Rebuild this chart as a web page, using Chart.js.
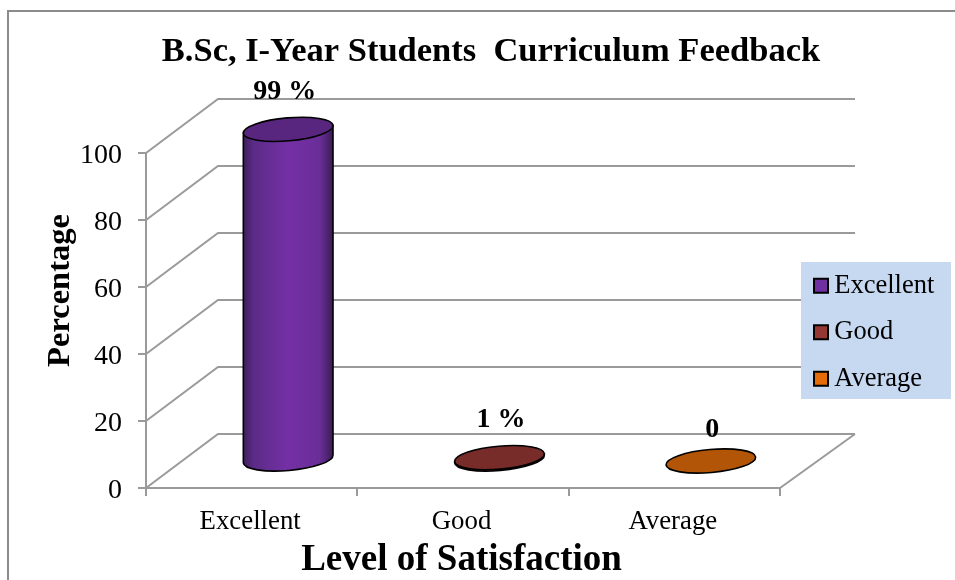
<!DOCTYPE html>
<html><head><meta charset="utf-8">
<style>html,body{margin:0;padding:0;background:#fff}canvas{display:block}</style>
<script src="https://cdn.jsdelivr.net/npm/chart.js@4"></script>
</head><body>
<canvas id="c" width="955" height="580"></canvas>
<script>
const categories = ['Excellent', 'Good', 'Average'];
const excellentValues = [99, null, null];
const goodValues = [null, 1, null];
const averageValues = [null, null, 0];
const dataLabels = ['99 %', '1 %', '0'];
const yTicks = [0, 20, 40, 60, 80, 100];
const titleText = 'B.Sc, I-Year Students  Curriculum Feedback';
const xTitleText = 'Level of Satisfaction';
const yTitleText = 'Percentage';

const FONT = "'Liberation Serif'";
const GRID = '#9a9a9a';
const DEPTH_X = 72, DEPTH_Y = 54;
const TILT = -5 * Math.PI / 180;
const LABEL_DX = [33, 38, 38];

function shiftTitle(chart, scale, dx, dy) {
  if (scale._shifted) return;
  const orig = scale.drawTitle.bind(scale);
  scale.drawTitle = function (a) {
    chart.ctx.save(); chart.ctx.translate(dx, dy); orig(a); chart.ctx.restore();
  };
  scale._shifted = true;
}

const threeD = {
  id: 'threeD',
  afterLayout(chart) {
    const t = chart.titleBlock; t.left = 27; t.right = 955;
    const l = chart.legend;
    l.left = 801; l.right = 955; l.top = 252.5; l.bottom = 480;
    shiftTitle(chart, chart.scales.y, 0, -30);
    shiftTitle(chart, chart.scales.x, -1.5, 3);
  },
  beforeDraw(chart) {
    const { ctx, chartArea: a, scales: { y } } = chart;
    ctx.save();
    // outer frame
    ctx.strokeStyle = '#8c8c8c'; ctx.lineWidth = 2;
    ctx.beginPath(); ctx.moveTo(8, 580); ctx.lineTo(8, 11); ctx.lineTo(955, 11); ctx.stroke();
    // walls
    ctx.strokeStyle = GRID; ctx.lineWidth = 2;
    y.ticks.forEach(t => {
      const py = y.getPixelForValue(t.value);
      ctx.beginPath();
      ctx.moveTo(a.left, py);
      ctx.lineTo(a.left + DEPTH_X, py - DEPTH_Y);
      ctx.lineTo(a.right + 75, py - DEPTH_Y);
      ctx.stroke();
    });
    const py0 = y.getPixelForValue(0);
    ctx.beginPath();
    ctx.moveTo(a.right, py0);
    ctx.lineTo(a.right + 75, py0 - DEPTH_Y);
    ctx.stroke();
    // legend panel
    ctx.fillStyle = '#c6d9f1';
    ctx.fillRect(801, 262, 150, 137);
    ctx.restore();
  },
  beforeDatasetDraw(chart, args) {
    const { ctx } = chart;
    const ds = chart.data.datasets[args.index];
    const el = args.meta.data.find((e, i) => ds.data[i] !== null);
    const r = el.width / 2;
    const cx = el.x + 36.5, topY = el.y - 27, baseY = el.base - 28, ry = 11.5;
    ctx.save();
    ctx.strokeStyle = '#000'; ctx.lineWidth = 1.6;
    if (baseY - topY > 0.5) {
      const g = ctx.createLinearGradient(cx - r, 0, cx + r, 0);
      ds.sideColors.forEach((c, i) => g.addColorStop(ds.sideStops[i], c));
      const dx = r * Math.cos(TILT), dy = r * Math.sin(TILT);
      ctx.fillStyle = g;
      ctx.beginPath();
      ctx.moveTo(cx - dx, topY - dy);
      ctx.lineTo(cx - dx, baseY - dy);
      ctx.ellipse(cx, baseY, r, ry, TILT, Math.PI, 0, true);
      ctx.lineTo(cx + dx, topY + dy);
      ctx.closePath();
      ctx.fill(); ctx.stroke();
    }
    ctx.fillStyle = ds.topColor;
    ctx.beginPath();
    ctx.ellipse(cx, topY, r, ry, TILT, 0, Math.PI * 2);
    ctx.fill(); ctx.stroke();
    ctx.restore();
    return false;
  },
  afterDatasetsDraw(chart) {
    const { ctx } = chart;
    ctx.save();
    ctx.fillStyle = '#000';
    ctx.font = 'bold 28px ' + FONT;
    ctx.textAlign = 'center'; ctx.textBaseline = 'middle';
    chart.data.datasets.forEach((ds, k) => {
      const idx = ds.data.findIndex(v => v !== null);
      const el = chart.getDatasetMeta(k).data[idx];
      const extra = ds.data[idx] === 0 ? 6 : 0;
      ctx.fillText(dataLabels[k], el.x + LABEL_DX[k], el.y - 64.5 + extra);
    });
    ctx.restore();
  }
};

new Chart(document.getElementById('c'), {
  type: 'bar',
  data: {
    labels: categories,
    datasets: [
      { label: 'Excellent', data: excellentValues, backgroundColor: '#7030a0', borderColor: '#000', borderWidth: 2,
        topColor: '#59267f', sideColors: ['#3f1f5c', '#5c2b88', '#7430a5', '#6a2e98', '#3a1c55'], sideStops: [0, 0.12, 0.5, 0.85, 1] },
      { label: 'Good', data: goodValues, backgroundColor: '#953735', borderColor: '#000', borderWidth: 2,
        topColor: '#772c2a', sideColors: ['#7a2c2a', '#a33b39', '#7a2c2a'], sideStops: [0, 0.5, 1] },
      { label: 'Average', data: averageValues, backgroundColor: '#e46c0a', borderColor: '#000', borderWidth: 2,
        topColor: '#b35507', sideColors: ['#b35507', '#e46c0a', '#b35507'], sideStops: [0, 0.5, 1] }
    ]
  },
  options: {
    responsive: false,
    animation: false,
    layout: { padding: { left: 0, right: 175, top: 0, bottom: 0 } },
    datasets: { bar: { grouped: false, barThickness: 90 } },
    plugins: {
      title: {
        display: true, text: titleText, color: '#000',
        font: { family: FONT, size: 34.5, weight: 'bold' },
        padding: { top: 31, bottom: 80.6 }
      },
      legend: {
        display: true, position: 'chartArea', align: 'start',
        labels: {
          color: '#000', font: { family: FONT, size: 26.5 },
          usePointStyle: true, pointStyle: 'rect', boxWidth: 0.01, boxHeight: 14, padding: 20
        }
      },
      tooltip: { enabled: false }
    },
    scales: {
      x: {
        afterFit(s) { s.height = 92; },
        grid: { drawOnChartArea: false, color: GRID, tickLength: 8, lineWidth: 2 },
        border: { color: GRID, width: 2 },
        ticks: { color: '#000', font: { family: FONT, size: 26.8 }, padding: 10, maxRotation: 0, labelOffset: -1.5 },
        title: { display: true, text: xTitleText, color: '#000', font: { family: FONT, size: 37, weight: 'bold' }, padding: { top: 0, bottom: 0 } }
      },
      y: {
        min: 0, max: 100,
        afterFit(s) { s.width = 146; },
        afterBuildTicks(s) { s.ticks = yTicks.map(v => ({ value: v })); },
        grid: { drawOnChartArea: false, color: GRID, tickLength: 8, lineWidth: 2 },
        border: { color: GRID, width: 2 },
        ticks: { color: '#000', font: { family: FONT, size: 28 }, padding: 16, labelOffset: 2.5 },
        title: { display: true, text: yTitleText, color: '#000', font: { family: FONT, size: 32.5, weight: 'bold' }, padding: { top: 41, bottom: 0 } }
      }
    }
  },
  plugins: [threeD]
});
</script>
</body></html>
